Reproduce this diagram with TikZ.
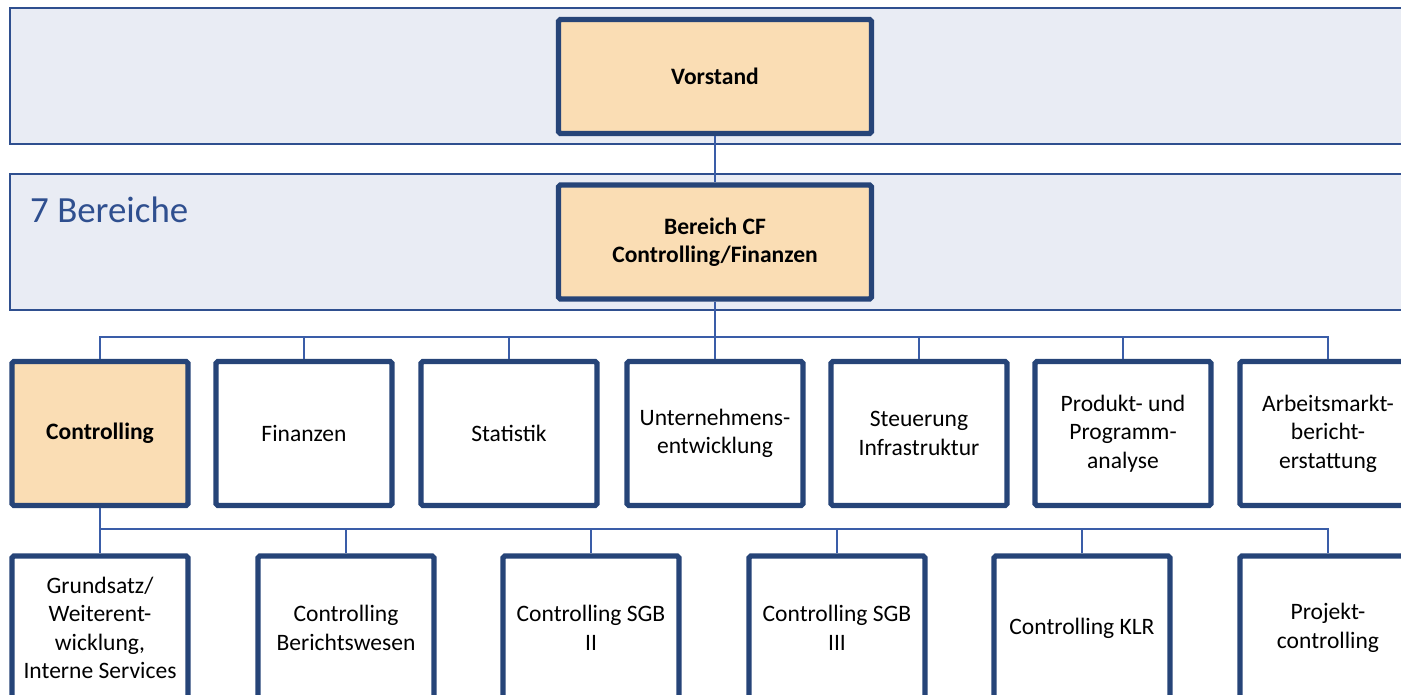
\documentclass[tikz,border=0pt]{standalone}
\usepackage{fontspec}
\setmainfont{Carlito}
\usetikzlibrary{positioning}
\definecolor{band-color}{HTML}{E9ECF4}
\definecolor{band-line}{HTML}{2F4F8F}
\definecolor{box-line}{HTML}{264478}
\definecolor{lead-color}{HTML}{FADDB4}
\definecolor{link-color}{HTML}{3A5DA8}

\begin{document}
\begin{tikzpicture}[x=0.02cm, y=-0.02cm]

\clip (0,0) rectangle (1401,694);

% levels in the background
\begin{scope}[band/.style={draw=band-line, fill=band-color, line width=0.9pt}]
\draw[band] (10,8) rectangle (1420,144);
\draw[band] (10,174) rectangle (1420,310);
\node(title) [anchor=west, text=band-line, font=\fontsize{21}{25}\selectfont] at (24,210) {7 Bereiche};
\end{scope}

\begin{scope}[every node/.style={rectangle, draw=box-line, line width=3pt, rounded corners=1pt, align=center, font=\fontsize{13.4}{16.2}\selectfont}, lead/.style={fill=lead-color, font=\fontsize{13.4}{16.2}\selectfont\bfseries}]

\node(vorstand) [lead, minimum width=6.26cm, minimum height=2.28cm] at (715,76.5) {Vorstand};
\node(bereich)  [lead, minimum width=6.26cm, minimum height=2.28cm] at (715,242) {Bereich CF\\Controlling/Finanzen};

\begin{scope}[every node/.append style={minimum width=3.52cm, minimum height=2.88cm, fill=white}]
\node(ctrl) [lead] at (100,433.5) {Controlling};
\node(fin)  at (304,433.5) {Finanzen};
\node(stat) at (509,433.5) {Statistik};
\node(ue)   at (715,433.5) {Unternehmens-\\entwicklung};
\node(steu) at (919,433.5) {Steuerung\\Infrastruktur};
\node(prod) at (1123,433.5) {Produkt- und\\Programm-\\analyse};
\node(arb)  at (1328,433.5) {Arbeitsmarkt-\\bericht-\\erstattung};

\node(grund) at (100,628)  {Grundsatz/\\Weiterent-\\wicklung,\\Interne Services};
\node(ber)   at (346,628)  {Controlling\\Berichtswesen};
\node(sgb2)  at (591,628)  {Controlling SGB\\II};
\node(sgb3)  at (837,628)  {Controlling SGB\\III};
\node(klr)   at (1082,628) {Controlling KLR};
\node(proj)  at (1328,628) {Projekt-\\controlling};
\end{scope}
\end{scope}

% connectors
\begin{scope}[link-color, line width=1pt]
\coordinate(bus1) at (715,337);
\coordinate(bus2) at (100,529);

\draw (vorstand.south) -- (bereich.north);
\draw (bereich.south) -- (bus1);
\draw (ctrl.north) |- (bus1) -| (arb.north);
\draw (fin.north)  -- (fin.north |- bus1);
\draw (stat.north) -- (stat.north |- bus1);
\draw (ue.north)   -- (ue.north |- bus1);
\draw (steu.north) -- (steu.north |- bus1);
\draw (prod.north) -- (prod.north |- bus1);

\draw (ctrl.south) -- (bus2) -| (proj.north);
\draw (grund.north) -- (bus2);
\draw (ber.north)  -- (ber.north |- bus2);
\draw (sgb2.north) -- (sgb2.north |- bus2);
\draw (sgb3.north) -- (sgb3.north |- bus2);
\draw (klr.north)  -- (klr.north |- bus2);
\end{scope}

\end{tikzpicture}
\end{document}
